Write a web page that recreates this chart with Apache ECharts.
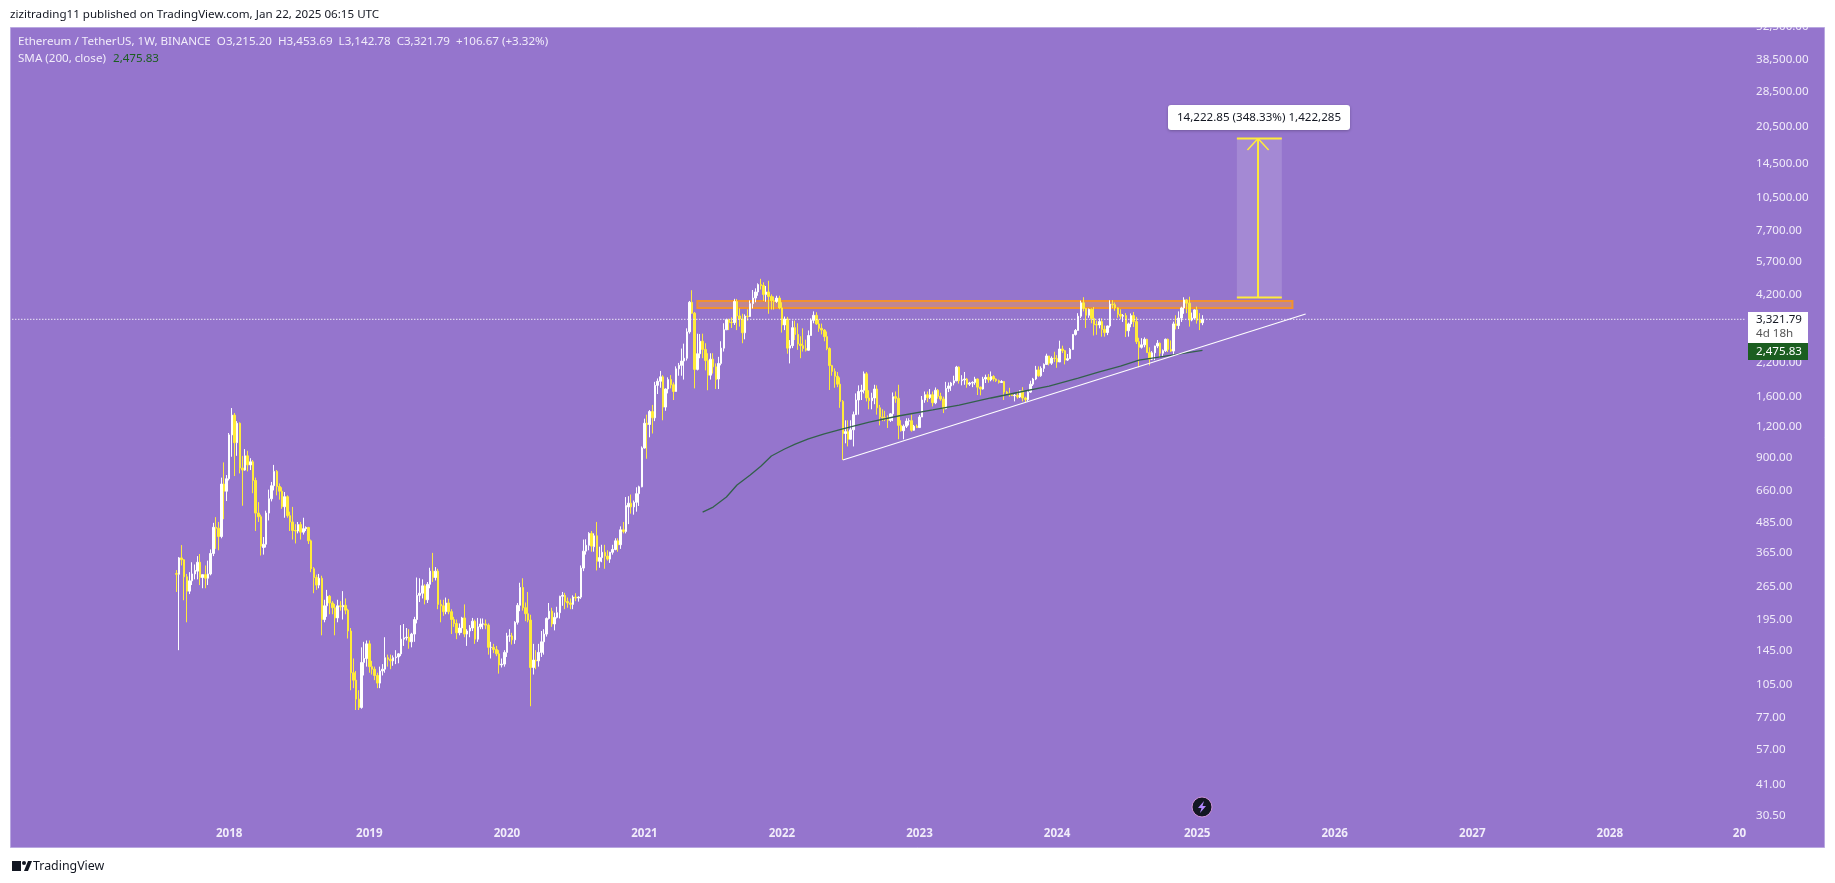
<!DOCTYPE html>
<html lang="en">
<head>
<meta charset="UTF-8">
<title>ETHUSDT 1W</title>
<script src="https://cdnjs.cloudflare.com/ajax/libs/echarts/6.0.0/echarts.min.js"></script>
<style>
  html, body { margin: 0; padding: 0; background: #fff; }
  #main { width: 1835px; height: 883px; }
</style>
</head>
<body>
<div id="main"></div>
<script>
// weekly candles, one list per calendar year: [open, close, low, high]
const candles2017 = [
  [301,299,253,311],[299,349,146,352],[349,343,325,394],[343,292,234,345],
  [292,255,190,300],[255,281,248,305],[281,300,270,335],[300,310,285,328],
  [308,335,285,355],[335,290,270,362],[290,298,262,298],[298,288,262,325],
  [288,300,270,340],[300,364,296,378],[364,466,355,486],[466,462,380,513],
  [462,427,375,490],[427,701,420,745],[701,655,503,860],[655,737,597,763]
];
const candles2018 = [
  [737,1115,725,1135],[1115,1344,907,1437],[1344,1036,756,1370],[1036,1245,915,1270],
  [1245,815,775,1255],[815,800,571,915],[800,915,795,975],[915,840,790,960],
  [840,865,800,895],[865,725,643,880],[725,533,450,745],[533,515,490,591],
  [515,390,357,525],[385,397,360,425],[397,533,385,545],[533,610,497,665],
  [610,690,595,715],[690,790,660,840],[790,685,630,800],[685,655,605,705],
  [655,566,555,680],[566,622,510,650],[622,520,510,630],[520,490,450,540],
  [490,452,415,565],[452,450,400,480],[450,478,440,490],[478,445,415,490],
  [445,460,435,510],[460,465,450,470],[465,410,398,468],[410,315,305,415],
  [315,290,250,320],[290,270,258,298],[270,288,262,300],[288,195,168,295],
  [195,222,190,235],[222,243,200,258],[243,228,205,246],[228,218,205,232],
  [218,198,168,226],[198,222,190,235],[222,220,212,232],[220,223,195,255],
  [223,213,205,238],[213,175,163,216],[175,118,100,180],[118,110,102,135],
  [110,92,83,120],[92,85,83,100],[85,130,84,150],[130,135,115,158],
  [135,155,125,160]
];
const candles2019 = [
  [155,125,118,160],[125,122,116,132],[122,115,110,125],[115,107,102,118],
  [107,120,102,125],[120,122,115,128],[122,136,118,165],[136,134,125,140],
  [134,132,122,140],[132,136,126,139],[136,137,128,146],[137,141,129,142],
  [141,162,138,185],[162,164,152,187],[164,165,160,180],[165,158,148,178],
  [158,170,150,172],[170,195,158,200],[195,245,188,290],[245,250,230,288],
  [250,268,238,285],[268,235,225,272],[235,272,228,278],[272,308,262,318],
  [308,290,278,366],[290,308,282,320],[308,225,215,315],[225,222,190,235],
  [222,210,202,235],[210,228,205,240],[228,210,205,237],[210,195,170,215],
  [195,188,182,200],[188,172,162,195],[172,180,168,188],[180,198,172,200],
  [198,170,165,225],[170,175,152,178],[175,180,165,185],[180,192,175,198],
  [192,162,155,195],[162,182,158,198],[182,187,178,197],[187,187,178,197],
  [187,185,178,195],[185,150,140,188],[150,150,135,158],[150,147,142,155],
  [147,141,138,152],[141,127,117,146],[127,128,124,135],[128,143,125,146]
];
const candles2020 = [
  [143,167,137,172],[167,167,158,178],[167,161,154,172],[161,190,155,192],
  [190,223,186,228],[223,264,211,276],[264,218,212,288],[218,206,192,229],
  [206,194,190,253],[194,124,86,204],[124,133,116,155],[133,132,122,146],
  [132,143,125,155],[143,158,137,175],[158,170,140,178],[170,197,166,199],
  [197,211,195,228],[211,187,182,218],[187,199,176,208],[199,208,197,220],
  [208,243,197,244],[243,245,222,253],[245,231,215,251],[231,228,218,240],
  [228,225,215,238],[225,241,215,245],[241,239,232,250],[239,241,231,243],
  [241,317,237,325],[317,372,308,415],[372,393,360,416],[393,440,375,445],
  [440,390,370,450],[388,430,370,440],[430,338,310,490],[338,350,318,388],
  [350,368,335,395],[368,355,315,395],[355,345,340,375],[345,368,333,370],
  [368,378,360,395],[378,410,375,420],[410,395,370,420],[395,455,380,470],
  [455,448,440,490],[448,572,440,620],[565,585,480,625],[585,565,530,635],
  [565,590,525,600],[590,640,540,680],[640,683,570,690],[683,985,680,1000]
];
const candles2021 = [
  [985,1245,980,1300],[1245,1230,890,1350],[1230,1390,1090,1410],[1390,1310,1130,1480],
  [1310,1780,1270,1840],[1780,1850,1640,1900],[1850,1930,1740,2040],[1930,1450,1280,1960],
  [1450,1720,1400,1730],[1720,1880,1650,1920],[1880,1790,1730,1960],[1790,1680,1550,1830],
  [1680,2080,1680,2130],[2080,2150,1950,2200],[2150,2240,1950,2520],[2240,2300,1880,2640],
  [2300,2950,2250,3050],[2950,3900,2900,3950],[3900,3520,3500,4372],[3520,2070,1730,3560],
  [2070,2400,2050,2900],[2400,2700,2300,2890],[2700,2500,2300,2900],[2500,2250,2050,2650],
  [2250,1960,1700,2410],[1960,2280,1880,2410],[2280,2120,1990,2410],[2120,1880,1720,2190],
  [1890,2190,1720,2330],[2190,2530,2150,2700],[2530,3010,2450,3200],[3010,3310,3000,3340],
  [3310,3220,3000,3340],[3230,3220,3060,3380],[3220,3930,3150,4030],[3930,3430,3000,4027],
  [3430,3330,3100,3680],[3330,2925,2650,3500],[2925,3420,2750,3480],[3420,3410,3280,3650],
  [3410,3850,3400,3970],[3850,4060,3680,4380],[4060,4300,3900,4450],[4300,4610,4150,4665],
  [4610,4570,4400,4868],[4570,4200,3950,4710],[4200,4300,3920,4550],[4300,4120,3500,4780],
  [4120,3960,3640,4200],[3960,3930,3640,4120],[3930,4060,3880,4150],[4060,3700,3650,4150]
];
const candles2022 = [
  [3700,3150,2930,3900],[3150,3330,3000,3410],[3330,2530,2400,3400],[2530,2590,2190,2730],
  [2590,3070,2530,3280],[3070,2880,2730,3280],[2880,2630,2490,3200],[2630,2590,2300,2830],
  [2590,2520,2450,3050],[2520,2480,2450,2740],[2480,2850,2470,2990],[2850,3290,2850,3350],
  [3290,3450,3200,3580],[3450,3180,3150,3550],[3180,3050,2950,3320],[3050,3000,2880,3190],
  [3000,2820,2700,3030],[2820,2520,2480,2960],[2520,2145,1704,2550],[2145,2030,1950,2160],
  [2030,1940,1740,2090],[1940,1800,1750,2020],[1800,1530,1440,1920],[1530,1130,880,1550],
  [1130,1150,1030,1280],[1150,1070,1000,1280],[1070,1170,1070,1280],[1170,1350,1000,1390],
  [1350,1550,1350,1650],[1550,1680,1350,1780],[1680,1700,1550,1790],[1700,1985,1650,2030],
  [1985,1580,1530,2020],[1580,1540,1420,1700],[1540,1580,1420,1660],[1580,1720,1490,1790],
  [1720,1440,1350,1780],[1440,1320,1220,1480],[1320,1310,1270,1420],[1310,1290,1270,1400],
  [1290,1280,1190,1340],[1280,1360,1260,1370],[1360,1600,1270,1665],[1600,1575,1510,1680],
  [1575,1220,1070,1790],[1220,1160,1150,1280],[1160,1210,1070,1230],[1210,1270,1190,1305],
  [1270,1275,1220,1305],[1275,1165,1150,1350],[1165,1210,1160,1225],[1210,1195,1190,1230]
];
const candles2023 = [
  [1195,1320,1190,1345],[1320,1550,1320,1610],[1550,1630,1510,1680],[1630,1585,1520,1680],
  [1585,1630,1565,1720],[1630,1510,1460,1680],[1510,1700,1490,1745],[1700,1605,1570,1720],
  [1605,1565,1540,1660],[1565,1430,1370,1600],[1430,1730,1420,1840],[1730,1770,1670,1830],
  [1770,1820,1690,1840],[1820,1860,1780,1950],[1860,2115,1850,2140],[2115,1860,1810,2130],
  [1860,1875,1780,1960],[1875,1890,1790,2020],[1890,1800,1740,1910],[1800,1820,1770,1840],
  [1820,1830,1750,1850],[1830,1890,1790,1930],[1890,1750,1625,1900],[1750,1720,1620,1760],
  [1720,1890,1710,1930],[1890,1920,1820,1970],[1920,1875,1825,1980],[1875,1935,1850,2030],
  [1935,1890,1850,1960],[1890,1860,1840,1900],[1860,1830,1810,1880],[1830,1845,1820,1870],
  [1845,1670,1550,1855],[1670,1645,1620,1690],[1645,1630,1600,1740],[1630,1615,1610,1650],
  [1615,1620,1530,1640],[1620,1595,1570,1680],[1595,1690,1580,1700],[1690,1580,1530,1750],
  [1580,1555,1520,1600],[1555,1670,1530,1700],[1670,1800,1660,1860],[1800,1890,1770,1910],
  [1890,2060,1870,2140],[2060,1950,1930,2130],[1950,2090,1930,2130],[2090,2170,2020,2190],
  [2170,2350,2160,2400],[2350,2195,2150,2350],[2195,2300,2160,2340],[2300,2295,2220,2445]
];
const candles2024 = [
  [2295,2220,2100,2370],[2220,2510,2220,2715],[2510,2470,2415,2590],[2470,2260,2170,2480],
  [2260,2290,2240,2395],[2290,2500,2290,2535],[2500,2880,2485,2890],[2880,2990,2850,3030],
  [2990,3420,2980,3520],[3420,3880,3360,3965],[3880,3680,3580,4093],[3680,3450,3060,3700],
  [3450,3650,3370,3680],[3650,3350,3200,3680],[3350,3160,2850,3730],[3160,3150,2870,3280],
  [3150,3250,3050,3350],[3250,3020,2820,3350],[3020,2930,2820,3130],[2930,3120,2860,3130],
  [3120,3830,3070,3975],[3830,3810,3690,3980],[3810,3700,3600,3890],[3700,3480,3370,3720],
  [3480,3420,3330,3650],[3420,3440,3240,3490],[3440,2980,2810,3520],[2980,3180,2820,3220],
  [3180,3440,3080,3510],[3440,3250,3090,3560],[3250,2690,2630,3400],[2690,2550,2110,2790],
  [2550,2610,2520,2780],[2610,2750,2550,2800],[2750,2425,2420,2765],[2425,2280,2150,2550],
  [2280,2420,2260,2460],[2420,2580,2260,2590],[2580,2650,2530,2730],[2650,2410,2310,2670],
  [2410,2470,2340,2500],[2470,2750,2440,2770],[2750,2500,2440,2770],[2500,2460,2440,2720],
  [2460,3180,2360,3250],[3180,3130,3020,3450],[3130,3360,3030,3580],[3360,3700,3240,3740],
  [3700,3990,3500,4090],[3990,3870,3520,4020],[3870,3300,3100,4110],[3300,3360,3260,3540],
  [3360,3630,3320,3650]
];
const candles2025 = [
  [3630,3290,3190,3745],[3290,3215,3000,3520],[3215.20,3321.79,3142.78,3453.69]
];

// SMA 200 read at a handful of weeks
const smaWeeks = ['2021-06-07','2021-07-05','2021-08-09','2021-09-06','2021-10-11','2021-11-08','2021-12-06',
  '2022-01-10','2022-02-07','2022-03-14','2022-04-25','2022-06-13','2022-08-22','2022-11-07',
  '2023-02-06','2023-04-17','2023-07-10','2023-09-25','2023-12-11',
  '2024-02-26','2024-04-22','2024-06-17','2024-08-05','2024-10-14','2025-01-20'];
const smaValues = [538,564,620,695,763,830,914,976,1022,1073,1125,1179,1259,1333,1411,1478,1580,1672,1769,1908,2020,2135,2261,2348,2475.83];

const priceTicks = [30.5,41,57,77,105,145,195,265,365,485,660,900,1200,1600,2200,4200,5700,7700,10500,14500,20500,28500,38500,52500];
const yearWeeks = ['2018-01-01','2019-01-07','2020-01-06','2021-01-04','2022-01-03','2023-01-02','2024-01-01','2025-01-06','2026-01-05','2027-01-04','2028-01-03','2028-12-11'];
const yearLabels = ['2018','2019','2020','2021','2022','2023','2024','2025','2026','2027','2028','20'];

// drawings
const trendWeeks = ['2022-06-13','2025-10-20'];
const trendValues = [880,3492];
const zoneWeeks = ['2021-05-24','2025-09-15'];
const zoneValues = [3692,3947];
const projWeeks = ['2025-04-21','2025-08-18'];
const projValues = [4083.1,18305.95];
const arrowWeeks = ['2025-05-19','2025-06-16','2025-07-14'];
const arrowValues = [16427,18305.95,16427];
const lastClose = 3321.79;

const PURPLE = '#9575CD', YELLOW = '#FFEB3B', TEXT = '#F1ECFA', FONT = '"Noto Sans", sans-serif';
const TEXT_FONT = '11.6px "Noto Sans"';
const leadWeeks = 62, totalWeeks = 656;

// weekly category axis, starts before the first candle and runs past the last one
const weeks = [];
for (let i = 0; i < totalWeeks; i++) {
  weeks.push(new Date(Date.UTC(2016, 5, 6 + i * 7)).toISOString().slice(0, 10));
}
const wk = (d) => weeks.indexOf(d);

const candles = [].concat(candles2017, candles2018, candles2019, candles2020, candles2021, candles2022, candles2023, candles2024, candles2025);
const candleData = new Array(leadWeeks).fill(['-', '-', '-', '-']).concat(candles);

function lineOf(xs, ys, color, width, type) {
  return {
    type: 'line', silent: true, animation: false, showSymbol: false, symbol: 'none', z: 6,
    data: xs.map((x, i) => [wk(x), ys[i]]),
    lineStyle: { color: color, width: width, type: type || 'solid' }
  };
}

function rectOf(xs, ys, style, z) {
  return {
    type: 'custom', silent: true, animation: false, z: z, clip: true,
    encode: { x: [0, 1], y: [2, 3] },
    data: [[wk(xs[0]), wk(xs[1]), ys[0], ys[1]]],
    renderItem: (params, api) => {
      const a = api.coord([api.value(0), api.value(3)]);
      const b = api.coord([api.value(1), api.value(2)]);
      return { type: 'rect', shape: { x: a[0], y: a[1], width: b[0] - a[0], height: b[1] - a[1] }, style: style };
    }
  };
}

const chart = echarts.init(document.getElementById('main'), null, { renderer: 'canvas' });

chart.setOption({
  animation: false,
  backgroundColor: '#ffffff',
  textStyle: { fontFamily: FONT },
  grid: { left: 11, top: 27, width: 1735, height: 820, containLabel: false },
  xAxis: {
    type: 'category', data: weeks, boundaryGap: true,
    axisLine: { show: false }, axisTick: { show: false }, splitLine: { show: false },
    axisLabel: {
      inside: true, margin: 7, color: TEXT, fontSize: 11.6, fontWeight: 'bold', fontFamily: FONT,
      customValues: yearWeeks,
      formatter: (v) => yearLabels[yearWeeks.indexOf(v)]
    }
  },
  yAxis: {
    type: 'log', logBase: 10, position: 'right', min: 22.76, max: 52500,
    axisLine: { show: false }, axisTick: { show: false }, splitLine: { show: false }, minorTick: { show: false },
    axisLabel: {
      margin: 10, color: TEXT, fontSize: 11.6, fontFamily: FONT, align: 'left', padding: [3, 0, 0, 0],
      customValues: priceTicks,
      formatter: (v) => Number(v).toLocaleString('en-US', { minimumFractionDigits: 2, maximumFractionDigits: 2 })
    }
  },
  series: [
    rectOf(zoneWeeks, zoneValues, { fill: 'rgba(255,160,60,0.42)', stroke: '#F2912F', lineWidth: 2 }, 1),
    rectOf(projWeeks, projValues, { fill: 'rgba(255,255,255,0.15)' }, 1),
    {
      type: 'candlestick', silent: true, animation: false, z: 3, barWidth: 2,
      data: candleData,
      itemStyle: { color: '#ffffff', color0: YELLOW, borderColor: '#ffffff', borderColor0: YELLOW, borderWidth: 1 }
    },
    lineOf([weeks[0], weeks[totalWeeks - 1]], [lastClose, lastClose], '#ffffff', 1.3, [1, 2]),
    lineOf(smaWeeks, smaValues, '#33604C', 1.3),
    lineOf(trendWeeks, trendValues, '#ffffff', 1.1),
    lineOf(projWeeks, [projValues[0], projValues[0]], YELLOW, 2),
    lineOf(projWeeks, [projValues[1], projValues[1]], YELLOW, 2),
    lineOf([arrowWeeks[1], arrowWeeks[1]], projValues, YELLOW, 2),
    lineOf(arrowWeeks, arrowValues, YELLOW, 1.5)
  ],
  graphic: { elements: [
    { type: 'rect', z: -5, shape: { x: 10.5, y: 27.5, width: 1814, height: 820 }, style: { fill: PURPLE, stroke: '#B9A8E0', lineWidth: 1 } },
    { type: 'rect', z: 50, shape: { x: 0, y: 0, width: 1835, height: 27 }, style: { fill: '#ffffff' } },
    { type: 'text', z: 51, x: 10, y: 15, style: { text: 'zizitrading11 published on TradingView.com, Jan 22, 2025 06:15 UTC', fill: '#131722', font: TEXT_FONT, verticalAlign: 'middle' } },
    { type: 'text', z: 51, x: 18, y: 42, style: { text: 'Ethereum / TetherUS, 1W, BINANCE  O3,215.20  H3,453.69  L3,142.78  C3,321.79  +106.67 (+3.32%)', fill: TEXT, font: TEXT_FONT, verticalAlign: 'middle' } },
    { type: 'text', z: 51, x: 18, y: 59, style: { text: 'SMA (200, close)', fill: TEXT, font: TEXT_FONT, verticalAlign: 'middle' } },
    { type: 'text', z: 51, x: 113, y: 59, style: { text: '2,475.83', fill: '#1B5E20', font: TEXT_FONT, verticalAlign: 'middle' } },
    { type: 'rect', z: 51, shape: { x: 1168, y: 105, width: 182, height: 25, r: 3 }, style: { fill: '#ffffff', shadowBlur: 3, shadowColor: 'rgba(0,0,0,0.25)', shadowOffsetY: 1 } },
    { type: 'text', z: 52, x: 1259, y: 117.5, style: { text: '14,222.85 (348.33%) 1,422,285', fill: '#131722', font: TEXT_FONT, align: 'center', verticalAlign: 'middle' } },
    { type: 'rect', z: 51, shape: { x: 1748, y: 312, width: 60, height: 31 }, style: { fill: '#ffffff' } },
    { type: 'text', z: 52, x: 1756, y: 320, style: { text: '3,321.79', fill: '#131722', font: TEXT_FONT, verticalAlign: 'middle' } },
    { type: 'text', z: 52, x: 1756, y: 334, style: { text: '4d 18h', fill: '#555555', font: TEXT_FONT, verticalAlign: 'middle' } },
    { type: 'rect', z: 51, shape: { x: 1748, y: 343, width: 60, height: 17 }, style: { fill: '#1B5E20' } },
    { type: 'text', z: 52, x: 1756, y: 351.5, style: { text: '2,475.83', fill: '#ffffff', font: TEXT_FONT, verticalAlign: 'middle' } },
    { type: 'circle', z: 51, shape: { cx: 1202, cy: 807, r: 10 }, style: { fill: '#131722', stroke: '#CE93D8', lineWidth: 1 } },
    { type: 'polygon', z: 52, shape: { points: [[1204, 801], [1198, 808], [1201.5, 808], [1200, 813], [1206, 806], [1202.5, 806]] }, style: { fill: '#B388FF' } },
    { type: 'rect', z: 51, shape: { x: 12, y: 861, width: 9, height: 10 }, style: { fill: '#131722' } },
    { type: 'circle', z: 51, shape: { cx: 24, cy: 863, r: 2 }, style: { fill: '#131722' } },
    { type: 'polygon', z: 51, shape: { points: [[24, 871], [28, 861], [32, 861], [28, 871]] }, style: { fill: '#131722' } },
    { type: 'text', z: 51, x: 33, y: 866, style: { text: 'TradingView', fill: '#131722', font: '12.4px "Noto Sans"', verticalAlign: 'middle' } }
  ] }
});
</script>
</body>
</html>
